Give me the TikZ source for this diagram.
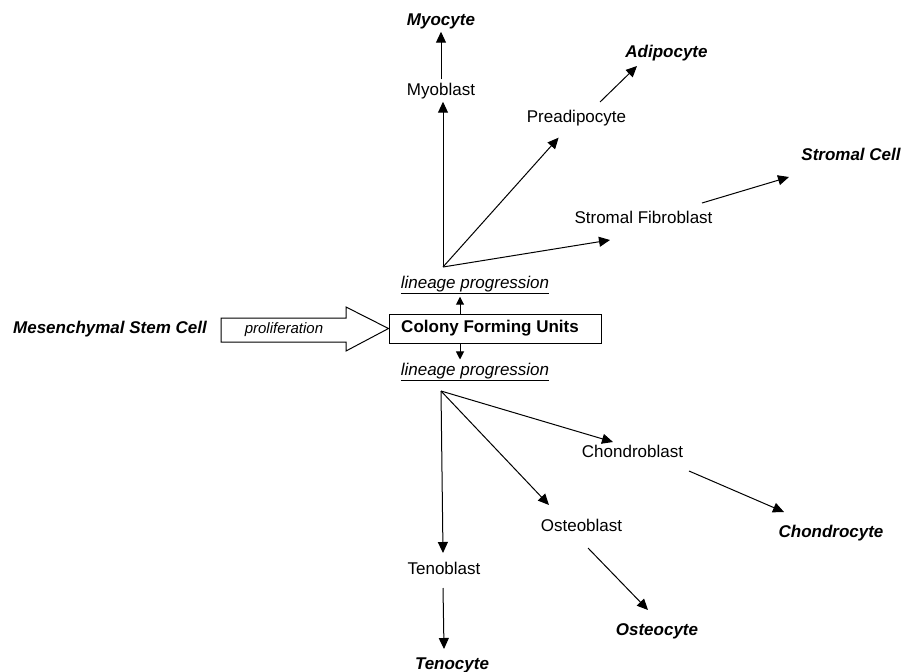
\documentclass[tikz,border=0pt]{standalone}
\usepackage{fontspec}
\setmainfont{Liberation Sans}
\usetikzlibrary{arrows.meta}

\begin{document}
\begin{tikzpicture}[
    x=1pt,y=-1pt,
    blast/.style={anchor=base,inner sep=3pt,font=\fontsize{17}{20}\selectfont},
    cyte/.style={blast,font=\fontsize{17}{20}\selectfont\bfseries\itshape},
    lineage/.style={blast,font=\fontsize{17}{20}\selectfont\itshape},
    arrow/.style={-{Triangle[length=11pt,width=10pt]},line width=1pt},
    short/.style={-{Triangle[length=8pt,width=8pt]},line width=1pt}
]
\useasboundingbox (0,0) rectangle (905,672);

% centre of the diagram
\node[draw,line width=1pt,minimum width=212pt,minimum height=29pt,inner sep=0pt,
      font=\fontsize{17}{20}\selectfont\bfseries] (cfu) at (495,328.5) {Colony Forming Units\hspace*{10pt}};
\node[cyte] (msc) at (110,333) {Mesenchymal Stem Cell};
\draw[line width=1pt] (221,318) -- (346,318) -- (346,307) -- (cfu.west) -- (346,351) -- (346,342) -- (221,342) -- cycle;
\node[inner sep=0pt,font=\fontsize{15}{18}\selectfont\itshape] (prolif) at (284,330) {proliferation};

\node[lineage] (uplin) at (475,288) {\underline{lineage progression}};
\node[lineage] (lowlin) at (475,375) {\underline{lineage progression}};
\coordinate (top) at (443,267);
\coordinate (bot) at (441,391);

% upper branches
\node[blast] (myoblast) at (441,95) {Myoblast};
\node[cyte] (myocyte) at (441,25) {Myocyte};
\node[blast] (preadi) at (576.5,122) {Preadipocyte};
\node[cyte] (adipo) at (666.5,57) {Adipocyte};
\node[blast] (sfib) at (643.5,223) {Stromal Fibroblast};
\node[cyte] (scell) at (851,160) {Stromal Cell};

% lower branches
\node[blast] (chondroblast) at (632.5,457) {Chondroblast};
\node[cyte] (chondrocyte) at (831,537) {Chondrocyte};
\node[blast] (osteoblast) at (581.5,531) {Osteoblast};
\node[cyte] (osteocyte) at (657,635) {Osteocyte};
\node[blast] (tenoblast) at (444,574) {Tenoblast};
\node[cyte] (tenocyte) at (452,669) {Tenocyte};

\draw[short] ([xshift=-35pt]cfu.north) -- ([xshift=-35pt]cfu.north |- uplin.south);
\draw[short] ([xshift=-35pt]cfu.south) -- ([xshift=-35pt]cfu.south |- lowlin.north);

\draw[arrow] (top) -- (top |- myoblast.south);
\draw[arrow] (myoblast) -- (myocyte);
\draw[arrow,shorten >=12pt] (top) -- (preadi);
\draw[arrow] ([shift={(23.5,-20)}]preadi.base) -- ([shift={(-29.5,9)}]adipo.base);
\draw[arrow] (top) -- ([shift={(-33.5,17)}]sfib.base);
\draw[arrow] ([shift={(58.5,-20)}]sfib.base) -- ([shift={(-62,17)}]scell.base);

\draw[arrow] (bot) -- ([shift={(-19.5,-15)}]chondroblast.base);
\draw[arrow] (bot) -- ([shift={(-32.5,-26)}]osteoblast.base);
\draw[arrow] (bot) -- ([shift={(-1,-21)}]tenoblast.base);
\draw[arrow] ([shift={(56.5,14)}]chondroblast.base) -- ([shift={(-47,-25)}]chondrocyte.base);
\draw[arrow] ([shift={(6.5,17)}]osteoblast.base) -- ([shift={(-9,-25)}]osteocyte.base);
\draw[arrow] ([shift={(-1,14)}]tenoblast.base) -- ([shift={(-8,-20)}]tenocyte.base);

\end{tikzpicture}
\end{document}
